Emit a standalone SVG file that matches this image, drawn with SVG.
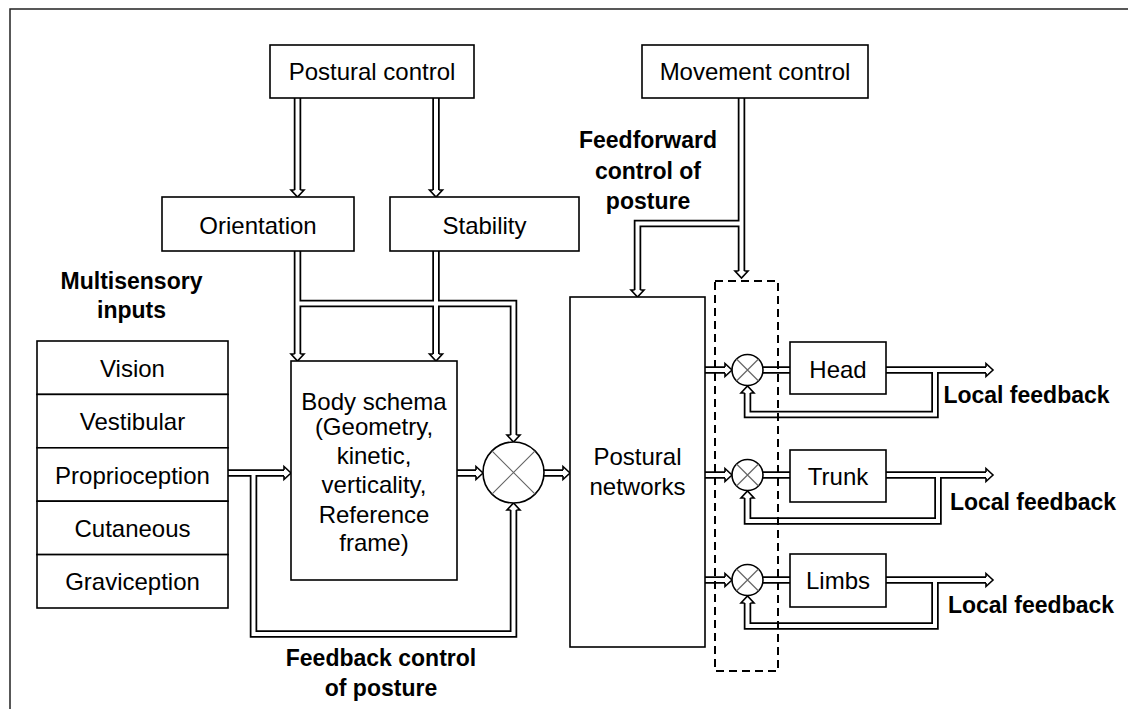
<svg xmlns="http://www.w3.org/2000/svg" xmlns:xlink="http://www.w3.org/1999/xlink" width="1128" height="709" viewBox="0 0 1128 709">
<style>
.box{fill:#fff;stroke:#000;stroke-width:1.6}
.t{font-family:"Liberation Sans",Arial,sans-serif;font-size:24px;text-anchor:middle;fill:#000}
.b{font-weight:bold;font-size:23px}
.lk{fill:none;stroke:#000;stroke-width:7.5;stroke-linejoin:miter}
.lw{fill:none;stroke:#fff;stroke-width:4;stroke-linejoin:miter}
.xl{stroke:#666;stroke-width:1.2}
.dash{fill:none;stroke:#000;stroke-width:2;stroke-dasharray:8 5}
.frame{fill:none;stroke:#222;stroke-width:1.5}
</style>
<defs>
<path id="ah" d="M-2.9,-7 H-6.5 L0,0 L6.5,-7 H2.9" fill="#fff" stroke="#000" stroke-width="1.6" stroke-linejoin="miter"/>
</defs>
<rect width="1128" height="709" fill="#fff"/>
<path class="frame" d="M10,709 V9 H1128"/>

<g id="connectors">
  <g class="lk">
    <path d="M297.5,98 V190"/>
    <path d="M436,98 V190"/>
    <path d="M297.5,251 V354"/>
    <path d="M436,251 V354"/>
    <path d="M297.5,303.5 H513.5 V435"/>
    <path d="M228,473 H284"/>
    <path d="M253.5,473 V634 H513.5 V510"/>
    <path d="M457,473 H476"/>
    <path d="M544,473 H563"/>
    <path d="M741.5,98 V271"/>
    <path d="M741.5,223.5 H637.5 V290"/>
    <path d="M705,370 H725"/>
    <path d="M705,475 H725"/>
    <path d="M705,580 H725"/>
    <path d="M763,370 H790"/>
    <path d="M763,475 H790"/>
    <path d="M763,580 H790"/>
    <path d="M886,370 H986"/>
    <path d="M935,370 V414.5 H747.5 V393"/>
    <path d="M886,475 H986"/>
    <path d="M938,475 V521 H747.5 V498"/>
    <path d="M886,580 H986"/>
    <path d="M935,580 V626 H747.5 V603"/>
  </g>
  <g class="lw">
    <path d="M297.5,98 V190"/>
    <path d="M436,98 V190"/>
    <path d="M297.5,251 V354"/>
    <path d="M436,251 V354"/>
    <path d="M297.5,303.5 H513.5 V435"/>
    <path d="M228,473 H284"/>
    <path d="M253.5,473 V634 H513.5 V510"/>
    <path d="M457,473 H476"/>
    <path d="M544,473 H563"/>
    <path d="M741.5,98 V271"/>
    <path d="M741.5,223.5 H637.5 V290"/>
    <path d="M705,370 H725"/>
    <path d="M705,475 H725"/>
    <path d="M705,580 H725"/>
    <path d="M763,370 H790"/>
    <path d="M763,475 H790"/>
    <path d="M763,580 H790"/>
    <path d="M886,370 H986"/>
    <path d="M935,370 V414.5 H747.5 V393"/>
    <path d="M886,475 H986"/>
    <path d="M938,475 V521 H747.5 V498"/>
    <path d="M886,580 H986"/>
    <path d="M935,580 V626 H747.5 V603"/>
  </g>
  <use xlink:href="#ah" href="#ah" transform="translate(297.5,197)"/>
  <use xlink:href="#ah" href="#ah" transform="translate(436,197)"/>
  <use xlink:href="#ah" href="#ah" transform="translate(297.5,361)"/>
  <use xlink:href="#ah" href="#ah" transform="translate(436,361)"/>
  <use xlink:href="#ah" href="#ah" transform="translate(513.5,442)"/>
  <use xlink:href="#ah" href="#ah" transform="translate(291,473) rotate(-90)"/>
  <use xlink:href="#ah" href="#ah" transform="translate(513.5,503) rotate(180)"/>
  <use xlink:href="#ah" href="#ah" transform="translate(483,473) rotate(-90)"/>
  <use xlink:href="#ah" href="#ah" transform="translate(570,473) rotate(-90)"/>
  <use xlink:href="#ah" href="#ah" transform="translate(741.5,278)"/>
  <use xlink:href="#ah" href="#ah" transform="translate(637.5,297)"/>
  <use xlink:href="#ah" href="#ah" transform="translate(732,370) rotate(-90)"/>
  <use xlink:href="#ah" href="#ah" transform="translate(732,475) rotate(-90)"/>
  <use xlink:href="#ah" href="#ah" transform="translate(732,580) rotate(-90)"/>
  <use xlink:href="#ah" href="#ah" transform="translate(993,370) rotate(-90)"/>
  <use xlink:href="#ah" href="#ah" transform="translate(993,475) rotate(-90)"/>
  <use xlink:href="#ah" href="#ah" transform="translate(993,580) rotate(-90)"/>
  <use xlink:href="#ah" href="#ah" transform="translate(747.5,386) rotate(180)"/>
  <use xlink:href="#ah" href="#ah" transform="translate(747.5,491) rotate(180)"/>
  <use xlink:href="#ah" href="#ah" transform="translate(747.5,596) rotate(180)"/>
</g>

<g id="postural-control">
  <rect class="box" x="270" y="45" width="204" height="53"/>
  <text class="t" x="372" y="80">Postural control</text>
</g>
<g id="movement-control">
  <rect class="box" x="642" y="45" width="226" height="53"/>
  <text class="t" x="755" y="80">Movement control</text>
</g>
<g id="orientation">
  <rect class="box" x="162" y="197" width="192" height="54"/>
  <text class="t" x="258" y="234">Orientation</text>
</g>
<g id="stability">
  <rect class="box" x="390" y="197" width="189" height="54"/>
  <text class="t" x="484.5" y="234">Stability</text>
</g>
<g id="multisensory-label">
  <text class="t b" x="131.5" y="289">Multisensory</text>
  <text class="t b" x="131.5" y="318">inputs</text>
</g>
<g id="sensory-inputs">
  <rect class="box" x="37" y="341" width="191" height="53.4"/>
  <rect class="box" x="37" y="394.4" width="191" height="53.4"/>
  <rect class="box" x="37" y="447.8" width="191" height="53.4"/>
  <rect class="box" x="37" y="501.2" width="191" height="53.4"/>
  <rect class="box" x="37" y="554.6" width="191" height="53.4"/>
  <text class="t" x="132.5" y="376.5">Vision</text>
  <text class="t" x="132.5" y="430">Vestibular</text>
  <text class="t" x="132.5" y="483.5">Proprioception</text>
  <text class="t" x="132.5" y="537">Cutaneous</text>
  <text class="t" x="132.5" y="590.3">Graviception</text>
</g>
<g id="body-schema">
  <rect class="box" x="291" y="361" width="166" height="219"/>
  <text class="t" x="374" y="410">Body schema</text>
  <text class="t" x="374" y="435">(Geometry,</text>
  <text class="t" x="374" y="464">kinetic,</text>
  <text class="t" x="374" y="493">verticality,</text>
  <text class="t" x="374" y="523">Reference</text>
  <text class="t" x="374" y="551">frame)</text>
</g>
<g id="comparator">
  <circle class="box" cx="513.5" cy="472.5" r="30.5"/>
  <path class="xl" d="M491.9,450.9 L535.1,494.1 M535.1,450.9 L491.9,494.1"/>
</g>
<g id="feedback-label">
  <text class="t b" x="381" y="666">Feedback control</text>
  <text class="t b" x="381" y="696">of posture</text>
</g>
<g id="feedforward-label">
  <text class="t b" x="648" y="148">Feedforward</text>
  <text class="t b" x="648" y="179">control of</text>
  <text class="t b" x="648" y="209">posture</text>
</g>
<g id="postural-networks">
  <rect class="box" x="570" y="297" width="135" height="350"/>
  <text class="t" x="637.5" y="465">Postural</text>
  <text class="t" x="637.5" y="495">networks</text>
</g>
<g id="dashed-group">
  <rect class="dash" x="715" y="281" width="63" height="390"/>
</g>
<g id="comparator-head">
  <circle class="box" cx="747.5" cy="370" r="15.5"/>
  <path class="xl" d="M736.5,359 L758.5,381 M758.5,359 L736.5,381"/>
</g>
<g id="comparator-trunk">
  <circle class="box" cx="747.5" cy="475" r="15.5"/>
  <path class="xl" d="M736.5,464 L758.5,486 M758.5,464 L736.5,486"/>
</g>
<g id="comparator-limbs">
  <circle class="box" cx="747.5" cy="580" r="15.5"/>
  <path class="xl" d="M736.5,569 L758.5,591 M758.5,569 L736.5,591"/>
</g>
<g id="head">
  <rect class="box" x="790" y="342" width="96" height="52"/>
  <text class="t" x="838" y="378">Head</text>
</g>
<g id="trunk">
  <rect class="box" x="790" y="450" width="96" height="52"/>
  <text class="t" x="838" y="485">Trunk</text>
</g>
<g id="limbs">
  <rect class="box" x="790" y="554" width="96" height="53"/>
  <text class="t" x="838" y="589">Limbs</text>
</g>
<g id="local-feedback-labels">
  <text class="t b" x="1026.5" y="403">Local feedback</text>
  <text class="t b" x="1033" y="510">Local feedback</text>
  <text class="t b" x="1031" y="613">Local feedback</text>
</g>
</svg>
